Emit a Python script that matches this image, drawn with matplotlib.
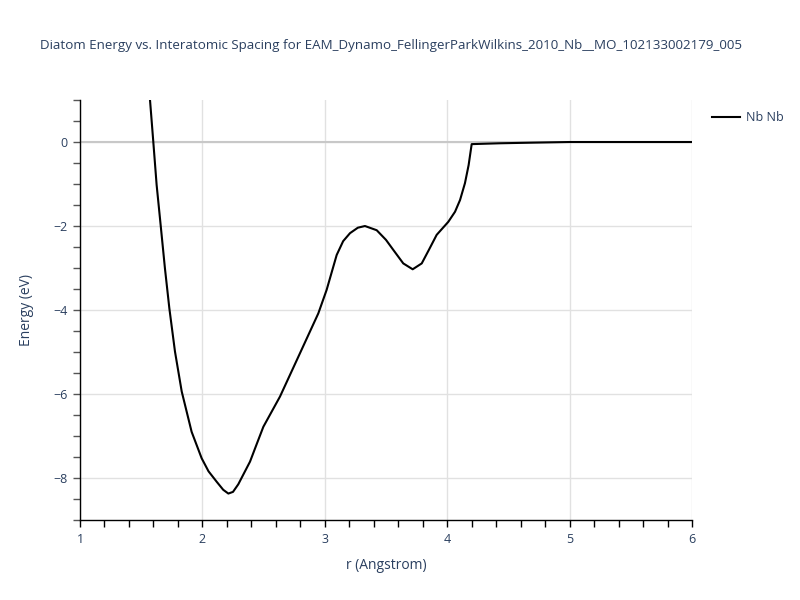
import numpy as np
import matplotlib
matplotlib.use("Agg")
import matplotlib.pyplot as plt
from matplotlib.ticker import MultipleLocator, FuncFormatter

# data
r = [1.572, 1.599, 1.626, 1.659, 1.694, 1.730, 1.776, 1.831, 1.912, 1.994,
     2.05, 2.117, 2.17, 2.212, 2.25, 2.293, 2.389, 2.44, 2.498,
     2.634, 2.797, 2.947, 3.015, 3.097, 3.15, 3.206, 3.27, 3.328, 3.424,
     3.50, 3.560, 3.641, 3.718, 3.792, 3.85, 3.914, 4.009, 4.064, 4.105,
     4.145, 4.175, 4.2, 4.43, 4.7, 5.0, 5.5, 6.0]
energy = [1.0, 0.0, -1.02, -1.98, -3.01, -3.96, -4.99, -5.94, -6.90, -7.53,
          -7.84, -8.09, -8.28, -8.37, -8.33, -8.15, -7.61, -7.22, -6.78,
          -6.06, -5.03, -4.08, -3.52, -2.69, -2.36, -2.17, -2.04, -2.0, -2.10,
          -2.33, -2.57, -2.89, -3.03, -2.89, -2.57, -2.21, -1.90, -1.66, -1.38,
          -0.98, -0.55, -0.05, -0.03, -0.015, 0.0, 0.0, 0.0]

txt = '#2a3f5f'
plt.rcParams['font.family'] = ['Open Sans', 'DejaVu Sans']

fig = plt.figure(figsize=(8, 6), dpi=100)
ax = fig.add_axes([0.1, 0.1333, 0.765, 0.7])

ax.plot(r, energy, color='black', lw=1.5, label='Nb Nb', zorder=3,
        solid_joinstyle='round')
ax.axhline(0, color='#c8c8c8', lw=1.5, zorder=1)

ax.set_xlim(1, 6)
ax.set_ylim(-9, 1)
ax.xaxis.set_major_locator(MultipleLocator(1))
ax.xaxis.set_minor_locator(MultipleLocator(0.2))
ax.yaxis.set_major_locator(MultipleLocator(2))
ax.yaxis.set_minor_locator(MultipleLocator(0.5))
ax.yaxis.set_major_formatter(FuncFormatter(
    lambda v, p: ('\u2212%d' % -v) if v < 0 else '%d' % v))
ax.grid(True, which='major', color='#e1e1e1', lw=1, zorder=0)
ax.set_axisbelow(True)

for s in ['top', 'right']:
    ax.spines[s].set_visible(False)
for s in ['left', 'bottom']:
    ax.spines[s].set_color('black')
    ax.spines[s].set_linewidth(1)

ax.tick_params(axis='x', which='both', direction='out', length=5, width=1,
               color='black', labelcolor=txt, labelsize=9, pad=4)
ax.tick_params(axis='y', which='both', direction='out', length=5, width=1,
               color='#555555', labelcolor=txt, labelsize=9, pad=4)

ax.set_xlabel('r (Angstrom)', color=txt, fontsize=10, labelpad=9)
ax.set_ylabel('Energy (eV)', color=txt, fontsize=10, labelpad=14)

fig.text(0.05, 1 - 46 / 600, 'Diatom Energy vs. Interatomic Spacing for '
         'EAM_Dynamo_FellingerParkWilkins_2010_Nb__MO_102133002179_005',
         color=txt, fontsize=9.6, ha='left', va='center')

leg = ax.legend(loc='upper left', bbox_to_anchor=(1.015, 1.0), frameon=False,
                fontsize=9, handlelength=2.2, handletextpad=0.5)
for t in leg.get_texts():
    t.set_color(txt)

fig.savefig('out.png', dpi=100)
